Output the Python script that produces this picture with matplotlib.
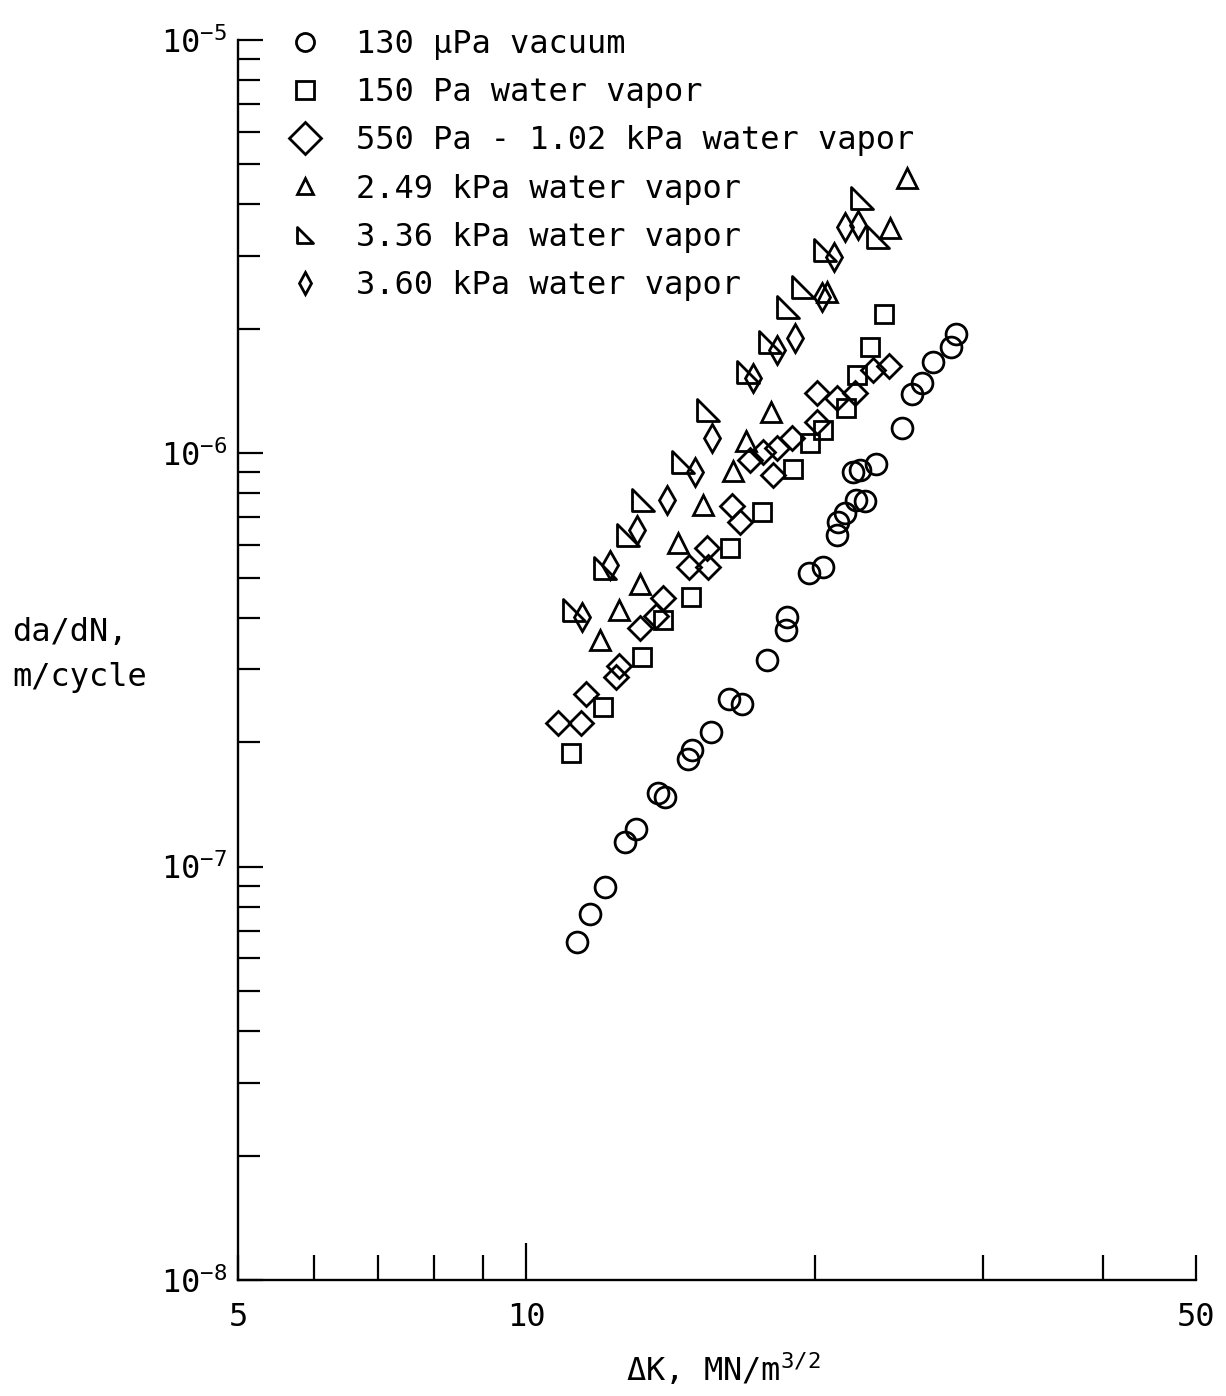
import numpy as np
import matplotlib
matplotlib.use('Agg')
import matplotlib.pyplot as plt
from matplotlib.lines import Line2D
from matplotlib.path import Path
from matplotlib.ticker import NullFormatter, LogLocator

plt.rcParams['font.family'] = 'DejaVu Sans Mono'
plt.rcParams['mathtext.default'] = 'regular'

# data (dK in MN/m^3/2, da/dN in m/cycle)
vac_dk = [11.30, 11.66, 12.09, 12.69, 13.00, 13.73, 13.97, 14.76, 14.90, 15.60, 16.29,
          16.81, 17.85, 18.68, 18.73, 19.74, 20.42, 21.12, 21.17, 21.52, 22.10, 22.58,
          21.94, 22.31, 23.19, 24.68, 25.28, 25.90, 26.59, 27.78, 28.11]
vac_rate = [6.58e-8, 7.70e-8, 8.94e-8, 1.15e-7, 1.23e-7, 1.51e-7, 1.47e-7, 1.82e-7, 1.91e-7,
            2.12e-7, 2.54e-7, 2.47e-7, 3.17e-7, 3.73e-7, 4.01e-7, 5.12e-7, 5.30e-7, 6.33e-7,
            6.81e-7, 7.16e-7, 7.69e-7, 7.65e-7, 8.99e-7, 9.10e-7, 9.41e-7, 1.15e-6, 1.39e-6,
            1.48e-6, 1.66e-6, 1.81e-6, 1.94e-6]

p150_dk = [11.14, 12.03, 13.22, 13.90, 14.87, 16.33, 17.63, 19.00, 19.79, 20.42, 21.58,
           22.15, 22.86, 23.64]
p150_rate = [1.88e-7, 2.44e-7, 3.21e-7, 3.94e-7, 4.48e-7, 5.89e-7, 7.20e-7, 9.15e-7,
             1.06e-6, 1.14e-6, 1.29e-6, 1.55e-6, 1.81e-6, 2.17e-6]

p550_dk = [10.80, 11.39, 11.55, 12.39, 12.48, 13.15, 13.64, 13.90, 14.80, 15.45, 15.49,
           16.41, 16.73, 17.13, 17.68, 18.28, 18.95, 18.11, 20.12, 20.12, 21.12, 22.05,
           23.02, 23.92]
p550_rate = [2.23e-7, 2.23e-7, 2.62e-7, 2.87e-7, 3.05e-7, 3.77e-7, 4.03e-7, 4.46e-7,
             5.30e-7, 5.89e-7, 5.30e-7, 7.44e-7, 6.81e-7, 9.62e-7, 1.006e-6, 1.03e-6,
             1.09e-6, 8.85e-7, 1.40e-6, 1.19e-6, 1.36e-6, 1.40e-6, 1.59e-6, 1.63e-6]

p249_dk = [11.95, 12.48, 13.15, 14.41, 15.30, 16.45, 16.97, 18.02, 20.61, 23.98, 24.98]
p249_rate = [3.53e-7, 4.17e-7, 4.84e-7, 6.05e-7, 7.48e-7, 9.04e-7, 1.07e-6, 1.26e-6,
             2.45e-6, 3.51e-6, 4.63e-6]

p336_dk = [11.20, 12.09, 12.78, 13.25, 14.58, 15.49, 17.05, 17.98, 18.77, 19.46, 20.52,
           22.42, 23.30]
p336_rate = [4.17e-7, 5.27e-7, 6.33e-7, 7.69e-7, 9.51e-7, 1.27e-6, 1.57e-6, 1.86e-6,
             2.26e-6, 2.52e-6, 3.10e-6, 4.15e-6, 3.33e-6]

p360_dk = [11.44, 12.24, 13.06, 14.03, 15.01, 15.64, 17.26, 18.28, 19.09, 20.37, 20.96,
           21.52, 22.21]
p360_rate = [4.01e-7, 5.36e-7, 6.51e-7, 7.69e-7, 9.00e-7, 1.09e-6, 1.52e-6, 1.78e-6,
             1.90e-6, 2.39e-6, 2.98e-6, 3.53e-6, 3.56e-6]

labels = ['130 \u03bcPa vacuum', '150 Pa water vapor', '550 Pa - 1.02 kPa water vapor',
          '2.49 kPa water vapor', '3.36 kPa water vapor', '3.60 kPa water vapor']

# right-angled triangle marker (vertical left side, flat bottom)
rtri = Path([(-1, 1), (-1, -1), (1, -1), (-1, 1)],
            [Path.MOVETO, Path.LINETO, Path.LINETO, Path.CLOSEPOLY])

fig = plt.figure(figsize=(12.26, 13.96), dpi=100)
ax = fig.add_axes([0.1941, 0.0831, 0.7814, 0.8883])

mk = dict(linestyle='none', mfc='none', mec='black', mew=2.0)
ax.plot(vac_dk, vac_rate, marker='o', ms=15, **mk)
ax.plot(p150_dk, p150_rate, marker='s', ms=13, **mk)
ax.plot(p550_dk, p550_rate, marker='D', ms=12.5, **mk)
ax.plot(p249_dk, p249_rate, marker='^', ms=15, **mk)
ax.plot(p336_dk, p336_rate, marker=rtri, ms=16, **mk)
ax.plot(p360_dk, p360_rate, marker='d', ms=14, **mk)

ax.set_xscale('log')
ax.set_yscale('log')
ax.set_xlim(5, 50)
ax.set_ylim(1e-8, 1e-5)

ax.spines['top'].set_visible(False)
ax.spines['right'].set_visible(False)
ax.spines['left'].set_linewidth(1.7)
ax.spines['bottom'].set_linewidth(1.7)

ax.set_xticks([5, 10, 50])
ax.set_xticklabels(['5', '10', '50'])
ax.set_xticks([6, 7, 8, 9, 20, 30, 40], minor=True)
ax.xaxis.set_minor_formatter(NullFormatter())
ax.yaxis.set_minor_locator(LogLocator(base=10, subs=np.arange(2, 10)))
ax.yaxis.set_minor_formatter(NullFormatter())

ax.tick_params(axis='both', which='both', direction='in', width=1.6, labelsize=23)
ax.tick_params(axis='x', which='both', length=18, pad=16)
ax.tick_params(axis='y', which='major', length=18, pad=8)
ax.tick_params(axis='y', which='minor', length=16)
ax.xaxis.get_major_ticks()[1].tick1line.set_markersize(27)

handles = [
    Line2D([], [], marker='o', ms=13, **mk),
    Line2D([], [], marker='s', ms=13, **mk),
    Line2D([], [], marker='D', ms=16, **mk),
    Line2D([], [], marker='^', ms=11, **mk),
    Line2D([], [], marker=rtri, ms=12, **mk),
    Line2D([], [], marker='d', ms=11, **mk),
]
ax.legend(handles, labels, loc='upper left', bbox_to_anchor=(0.045, 1.009),
          frameon=False, fontsize=23, handlelength=1.5, handletextpad=0.85,
          labelspacing=0.54, borderpad=0, borderaxespad=0)

fig.text(0.0098, 0.531, 'da/dN,\nm/cycle', fontsize=23, ha='left', va='center',
         linespacing=1.6)
fig.text(0.59, 0.019, '\u0394K, MN/m$^{3/2}$', fontsize=23, ha='center', va='center')

plt.savefig('out.png', dpi=100)
